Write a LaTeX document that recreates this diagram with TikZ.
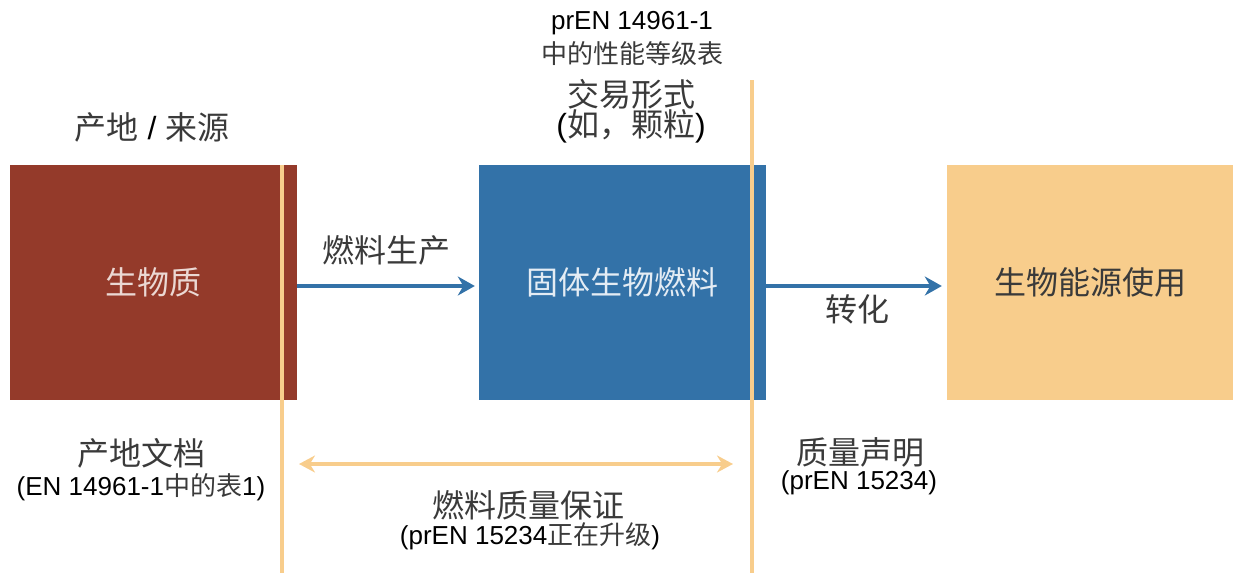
\documentclass[tikz,border=0pt]{standalone}
\usepackage{fontspec}
\setmainfont{Liberation Sans}
\newfontfamily\cjk{Noto Sans CJK SC}
\usetikzlibrary{arrows.meta}
\definecolor{biomassred}{HTML}{943A2A}
\definecolor{fuelblue}{HTML}{3372A8}
\definecolor{energyorange}{HTML}{F8CD8C}
\definecolor{qaline}{HTML}{F8CD8C}
\definecolor{zhgray}{HTML}{3A3A3A}
\definecolor{redtext}{HTML}{EBD8D3}
\definecolor{bluetext}{HTML}{E4ECF4}
\newcommand{\zh}[1]{{\cjk\color{zhgray}#1}}

\begin{document}
\begin{tikzpicture}[x=1pt,y=-1pt,>={Stealth[length=17pt,width=19pt]}]
        % Styles
        \tikzstyle{block} = [rectangle, minimum width=287pt, minimum height=235pt,
                             inner sep=0pt, font=\fontsize{32}{38}\selectfont\cjk]
        \tikzstyle{big} = [inner sep=0pt, font=\fontsize{32}{38}\selectfont]
        \tikzstyle{small} = [inner sep=0pt, font=\fontsize{26}{31}\selectfont]
        \tikzstyle{arrow} = [->, line width=3.5pt, fuelblue]
        \tikzstyle{qa} = [line width=4pt, qaline]

        \useasboundingbox (0,0) rectangle (1233,573);

        % ==== Blocks ====
        \node[block, fill=biomassred, text=redtext]    (biomass)   at (153.5,282.5) {生物质};
        \node[block, fill=fuelblue, text=bluetext]     (solidfuel) at (622.5,282.5) {固体生物燃料};
        \node[block, fill=energyorange, text=zhgray, minimum width=286pt]
                                                       (energy)    at (1090,282.5)  {生物能源使用};

        % ==== Labels ====
        \node[big]   (origin)     at (152,127.5) {\zh{产地} / \zh{来源}};
        \node[big]   (production) at (386,250)   {\zh{燃料生产}};
        \node[big]   (conversion) at (857,309)   {\zh{转化}};
        \node[small] (classes)    at (632,23)    {prEN 14961-1};
        \node[small] (classeszh)  at (632,54)    {\zh{中的性能等级表}};
        \node[big, align=center, font=\fontsize{32}{30.5}\selectfont]
                     (trade)      at (631,111)   {\zh{交易形式}\\(\zh{如，颗粒})};
        \node[big]   (origindoc)  at (141,453)   {\zh{产地文档}};
        \node[small] (origintab)  at (141,487)   {(EN 14961-1\zh{中的表}1)};
        \node[big]   (qa)         at (528,505)   {\zh{燃料质量保证}};
        \node[small] (qaref)      at (530,536)   {(prEN 15234\zh{正在升级})};
        \node[big]   (decl)       at (860,452)   {\zh{质量声明}};
        \node[small] (declref)    at (859,483)   {(prEN 15234)};

        % ==== Boundary lines ====
        \coordinate (lefttop)  at (282,165);
        \coordinate (leftbot)  at (282,573);
        \coordinate (righttop) at (752,80);
        \coordinate (rightbot) at (752,573);
        \draw[qa] (lefttop) -- (leftbot);
        \draw[qa] (righttop) -- (rightbot);

        % ==== Arrows ====
        \draw[arrow, shorten >=4pt] ([yshift=-3.5pt]biomass.east) -- ([yshift=-3.5pt]solidfuel.west);
        \draw[arrow, shorten >=5pt] ([yshift=-3.5pt]solidfuel.east) -- ([yshift=-3.5pt]energy.west);

        % QA span between the two lines
        \coordinate (qaleft)  at (299,464);
        \coordinate (qaright) at (733,464);
        \draw[qa, line width=3.5pt, {Stealth[length=16pt,width=17pt]}-{Stealth[length=16pt,width=17pt]}]
              (qaleft) -- (qaright);
    \end{tikzpicture}
\end{document}
